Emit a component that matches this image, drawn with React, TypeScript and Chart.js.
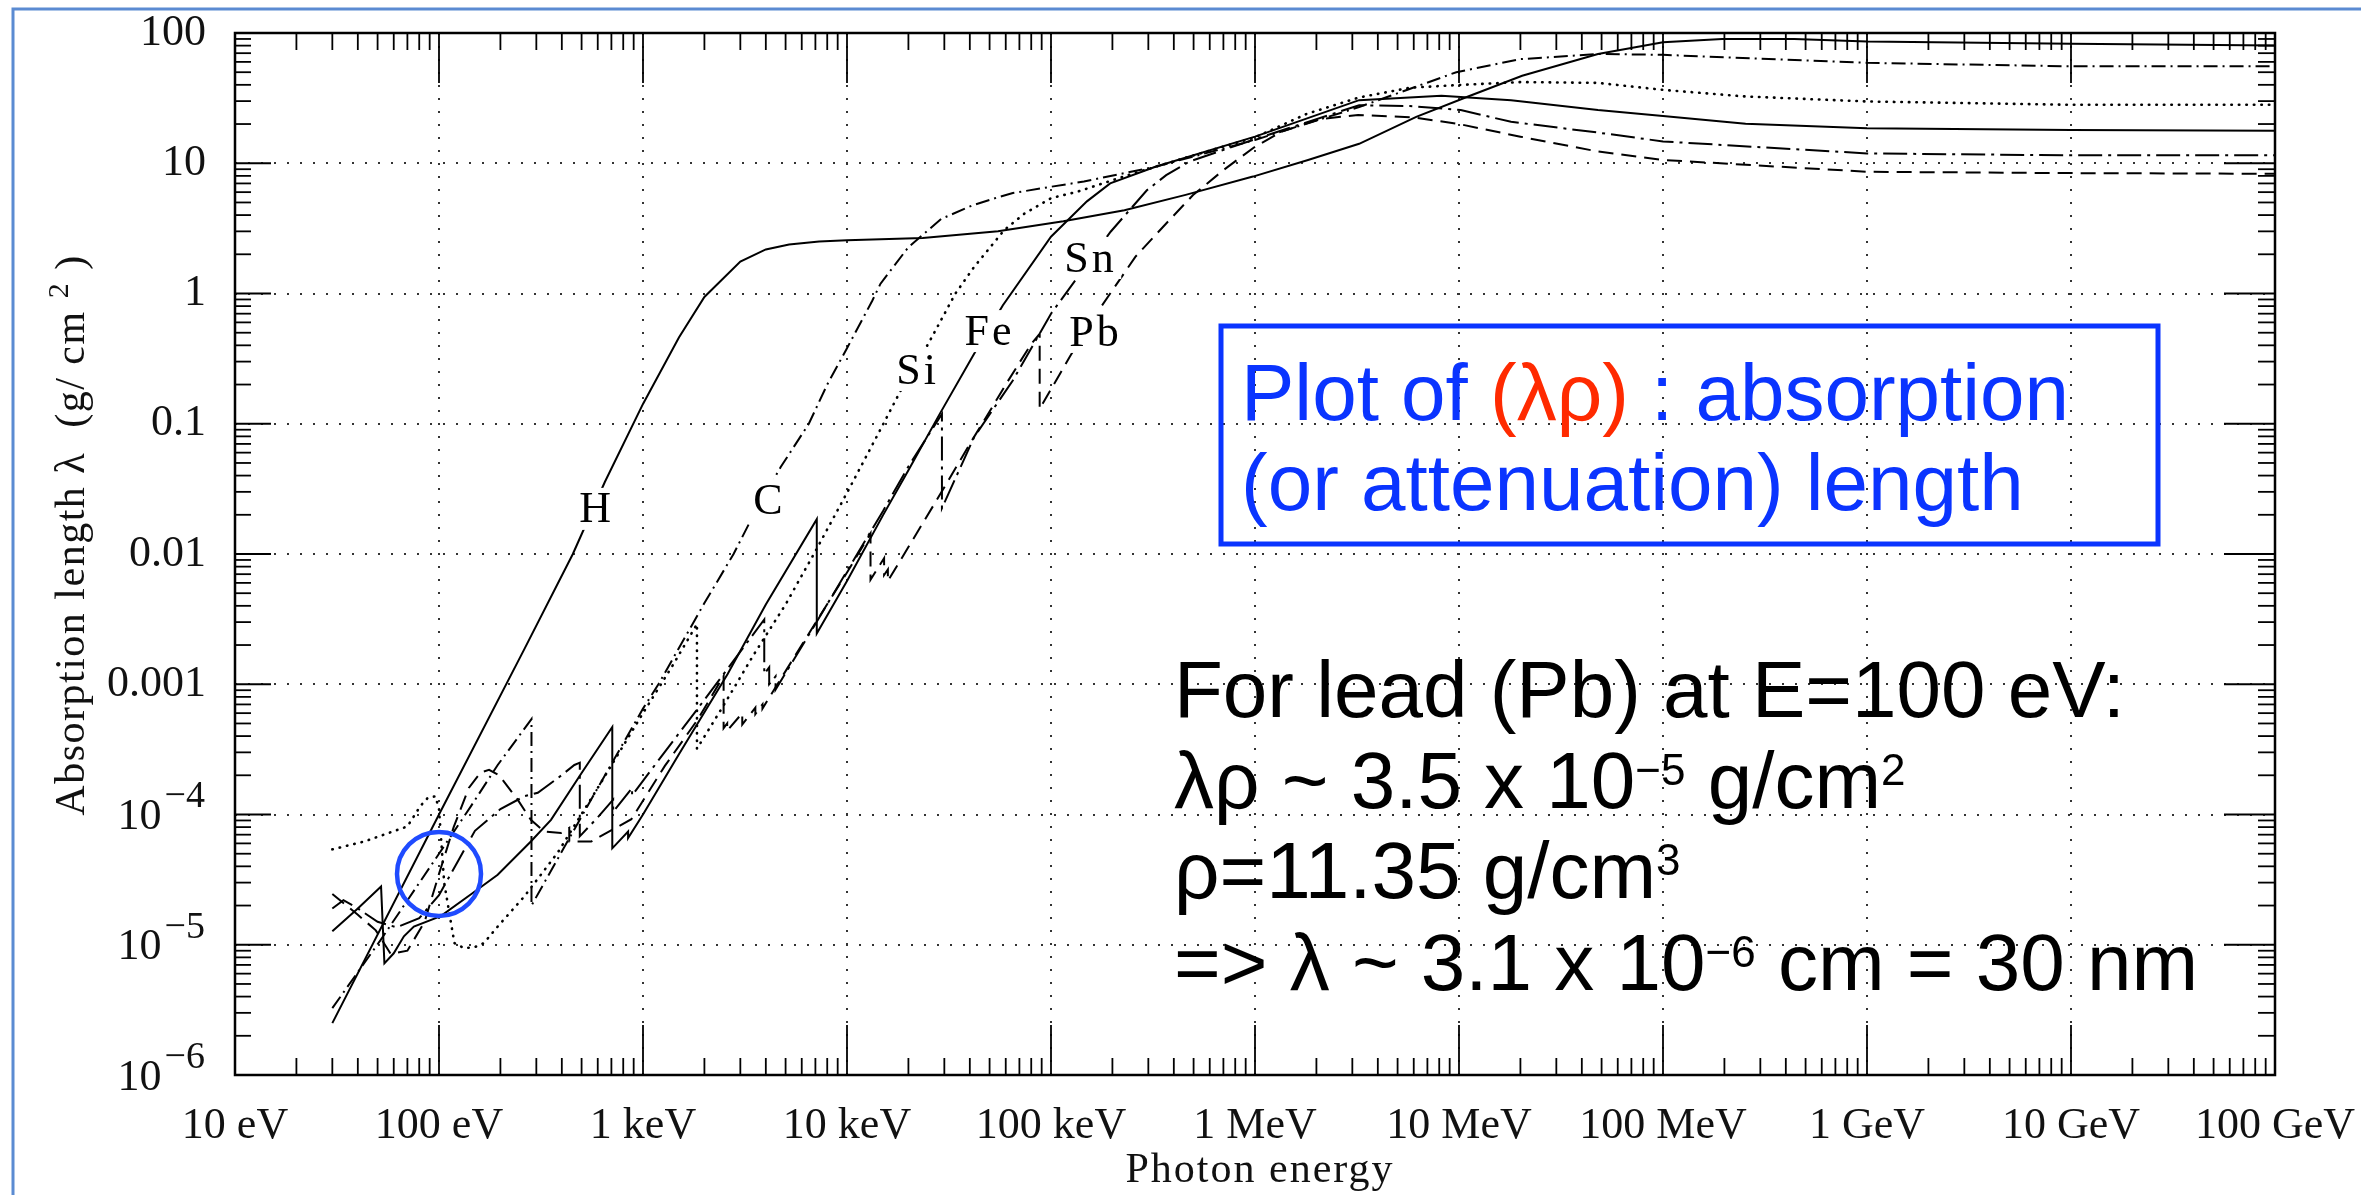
import React, { useEffect, useRef } from 'react';
import { Chart, registerables } from 'chart.js';

Chart.register(...registerables);

// ---------------- data (photon energy in eV, absorption length in g/cm^2) ----------------
const hE = [30, 100, 262, 453, 650, 1000, 1500, 2000, 3000, 4000, 5200, 7300, 1e4, 2.35e4, 5.5e4, 1.15e5, 2.29e5, 4.57e5, 9.77e5, 1.82e6, 3.24e6, 6.17e6, 1.1e7, 2.04e7, 4.8e7, 1e8, 1.95e8, 4.4e8, 1e9, 1e10, 1e11];
const hL = [2.5e-6, 1.0e-4, 1.86e-3, 0.01, 0.0357, 0.142, 0.46, 0.94, 1.76, 2.18, 2.38, 2.51, 2.56, 2.67, 3.0, 3.58, 4.35, 5.72, 7.9, 10.6, 14.1, 22.7, 32.4, 47, 69, 84.8, 90, 90, 86, 82.8, 80];

const cE = [30, 52, 100, 143, 194, 284, 284, 400, 600, 1000, 1190, 2000, 2780, 3450, 4740, 6500, 8000, 1e4, 1.33e4, 1.46e4, 2e4, 2.9e4, 4.1e4, 5.5e4, 6.5e4, 1e5, 1.45e5, 3.25e5, 1e6, 3.24e6, 9.7e6, 2e7, 4.8e7, 1e8, 1e9, 1e10, 1e11];
const cL = [3.26e-6, 1.1e-5, 5.0e-5, 1.15e-4, 2.4e-4, 5.4e-4, 2.0e-5, 5.2e-5, 1.6e-4, 6.5e-4, 1.0e-3, 4.2e-3, 0.01, 0.0194, 0.0467, 0.1, 0.2, 0.38, 0.88, 1.19, 2.27, 3.74, 4.73, 5.48, 5.9, 6.6, 7.24, 9.4, 15.1, 27, 50, 63, 69, 68, 59, 55.5, 55.5];

const siE = [30, 43, 70, 81, 88, 96, 100, 106, 119, 133, 150, 166, 194, 262, 382, 600, 1000, 1400, 1839, 1839, 2500, 3500, 5000, 7000, 1e4, 1.4e4, 1.9e4, 2.5e4, 3.4e4, 4.2e4, 5.9e4, 7.4e4, 1e5, 1.35e5, 2.38e5, 5e5, 1e6, 1.8e6, 3.24e6, 5.75e6, 9.7e6, 2e7, 4.8e7, 1e8, 2.5e8, 1e9, 1e10, 1e11];
const siL = [5.4e-5, 6.2e-5, 8.1e-5, 1.16e-4, 1.34e-4, 1.38e-4, 1.1e-4, 3.0e-5, 1.03e-5, 9.4e-6, 9.6e-6, 1.03e-5, 1.38e-5, 2.35e-5, 5.1e-5, 1.6e-4, 6.0e-4, 1.4e-3, 2.9e-3, 3.2e-4, 7.0e-4, 1.7e-3, 4.1e-3, 0.0105, 0.0295, 0.08, 0.2, 0.41, 1.0, 1.6, 3.07, 4.1, 5.4, 6.05, 8.1, 11.5, 15.8, 24, 32, 38, 39.8, 42, 41.4, 36.6, 32.6, 29.8, 28.1, 28.1];

const feE = [30, 40, 52, 54, 60, 67.3, 75.3, 102, 143, 194, 282, 354, 500, 707, 707, 845, 845, 1000, 1500, 2600, 4000, 7110, 7110, 1e4, 1.5e4, 2e4, 2.84e4, 4.2e4, 5.8e4, 1e5, 1.5e5, 1.95e5, 3.25e5, 1e6, 3.24e6, 8.2e6, 1.8e7, 4.8e7, 1e8, 2.54e8, 1e9, 1e10, 1e11];
const feL = [1.27e-5, 1.9e-5, 2.8e-5, 7.2e-6, 8.6e-6, 1.16e-5, 1.38e-5, 1.66e-5, 2.43e-5, 3.45e-5, 6.2e-5, 9.1e-5, 2.08e-4, 4.7e-4, 5.5e-5, 7.4e-5, 6.6e-5, 1.0e-4, 2.9e-4, 1.2e-3, 4.1e-3, 0.0185, 2.45e-3, 6.2e-3, 0.0198, 0.044, 0.118, 0.345, 0.81, 2.73, 5.1, 7.0, 9.4, 16, 30.5, 33, 30.5, 25.6, 23.1, 20.1, 18.6, 18.0, 17.8];

const snE = [30, 34, 40, 50, 62, 80, 100, 125, 150, 200, 262, 305, 382, 461, 490, 490, 600, 714, 714, 884, 884, 1200, 2000, 3000, 3930, 3930, 4156, 4156, 4465, 4465, 7000, 1e4, 1.5e4, 2e4, 2.92e4, 2.92e4, 4.2e4, 6.5e4, 1e5, 1.32e5, 1.96e5, 2.95e5, 3.67e5, 4.76e5, 1e6, 3.24e6, 5.75e6, 1.02e7, 1.8e7, 4.8e7, 1e8, 1e9, 1e10, 1e11];
const snL = [1.9e-5, 2.2e-5, 1.9e-5, 1.5e-5, 1.36e-5, 1.6e-5, 2.4e-5, 4.5e-5, 7.5e-5, 1.1e-4, 1.38e-4, 1.47e-4, 1.9e-4, 2.4e-4, 2.5e-4, 6.8e-5, 9.5e-5, 1.3e-4, 1.05e-4, 1.6e-4, 1.4e-4, 2.65e-4, 7.6e-4, 1.78e-3, 3.14e-3, 1.2e-3, 1.35e-3, 1.0e-3, 1.15e-3, 9.1e-4, 2.9e-3, 7.4e-3, 0.0213, 0.047, 0.119, 0.0225, 0.079, 0.215, 0.7, 1.27, 2.98, 6.2, 8.1, 10.3, 15.3, 27.9, 27.5, 25.6, 20.8, 17.2, 14.7, 11.9, 11.5, 11.5];

const pbE = [30, 40, 49, 58, 70, 85, 100, 118, 140, 160, 176, 197, 243, 282, 328, 396, 435, 435, 557, 877, 1280, 1860, 2484, 2484, 2586, 2586, 3066, 3066, 3554, 3554, 3851, 3851, 4560, 7050, 1e4, 13040, 13040, 15200, 15200, 15860, 15860, 2e4, 3e4, 4e4, 5e4, 6e4, 8e4, 8.8e4, 8.8e4, 1.24e5, 1.76e5, 2.59e5, 3.67e5, 4.97e5, 7.03e5, 1e6, 1.35e6, 2.08e6, 3.2e6, 6e6, 1e7, 2e7, 4.8e7, 1e8, 1e9, 1e10, 1e11];
const pbL = [2.45e-5, 1.7e-5, 1.29e-5, 8.5e-6, 9.0e-6, 1.5e-5, 3.5e-5, 8.0e-5, 1.6e-4, 2.1e-4, 2.2e-4, 2.0e-4, 1.3e-4, 9.1e-5, 7.4e-5, 7.2e-5, 7.9e-5, 6.2e-5, 6.2e-5, 9.2e-5, 2.36e-4, 5.4e-4, 1.16e-3, 4.6e-4, 5.0e-4, 4.4e-4, 6.0e-4, 4.9e-4, 6.6e-4, 5.9e-4, 7.0e-4, 6.5e-4, 1.0e-3, 3.0e-3, 7.2e-3, 0.0144, 6.35e-3, 9.3e-3, 6.9e-3, 7.6e-3, 6.2e-3, 0.0113, 0.0325, 0.07, 0.124, 0.2, 0.41, 0.49, 0.13, 0.33, 0.79, 1.91, 3.45, 5.7, 8.9, 13.4, 17.5, 21.8, 23.5, 22.5, 20, 16, 12.3, 10.6, 8.6, 8.4, 8.3];

// element labels placed on their curves (data coordinates)
const elementNames = ['H', 'C', 'Si', 'Fe', 'Sn', 'Pb'];
const labelE = [582, 4100, 21800, 49100, 153600, 162500];
const labelL = [0.023, 0.0269, 0.268, 0.533, 1.94, 0.525];

// highlighted point (Pb at 100 eV)
const circleE = 100;
const circleL = 3.5e-5;

// tick labels
const xTickValues = [1e1, 1e2, 1e3, 1e4, 1e5, 1e6, 1e7, 1e8, 1e9, 1e10, 1e11];
const xTickLabels = ['10 eV', '100 eV', '1 keV', '10 keV', '100 keV', '1 MeV', '10 MeV', '100 MeV', '1 GeV', '10 GeV', '100 GeV'];
const yTickValues = [1e-6, 1e-5, 1e-4, 1e-3, 1e-2, 0.1, 1, 10, 100];
const yTickLabels = ['10^\u22126', '10^\u22125', '10^\u22124', '0.001', '0.01', '0.1', '1', '10', '100'];

const xTitle = 'Photon energy';
const yTitleMain = 'Absorption length \u03bb  (g/ cm ';
const yTitleSup = '2';
const yTitleEnd = ' )';

type Seg = { t: string; sup?: boolean; red?: boolean };
const boxLines: Seg[][] = [
  [{ t: 'Plot of ' }, { t: '(\u03bb\u03c1)', red: true }, { t: ' : absorption' }],
  [{ t: '(or attenuation) length' }],
];
const noteLines: Seg[][] = [
  [{ t: 'For lead (Pb) at E=100 eV:' }],
  [{ t: '\u03bb\u03c1 ~ 3.5 x 10' }, { t: '\u22125', sup: true }, { t: ' g/cm' }, { t: '2', sup: true }],
  [{ t: '\u03c1=11.35 g/cm' }, { t: '3', sup: true }],
  [{ t: '=> \u03bb ~ 3.1 x 10' }, { t: '\u22126', sup: true }, { t: ' cm = 30 nm' }],
];

// ---------------- styling ----------------
const SERIF = "'Liberation Serif', 'Times New Roman', serif";
const SANS = "'Liberation Sans', Arial, Helvetica, sans-serif";
const BLUE = '#0a34ff';
const RED = '#ff2a00';

const pts = (e: number[], l: number[]) => e.map((x, i) => ({ x, y: l[i] }));

function line(ctx: CanvasRenderingContext2D, x1: number, y1: number, x2: number, y2: number) {
  ctx.beginPath();
  ctx.moveTo(x1, y1);
  ctx.lineTo(x2, y2);
  ctx.stroke();
}

function drawSegs(ctx: CanvasRenderingContext2D, x: number, y: number, segs: Seg[], size: number, supSize: number, rise: number, color: string) {
  let cx = x;
  for (const s of segs) {
    ctx.font = `${s.sup ? supSize : size}px ${SANS}`;
    ctx.fillStyle = s.red ? RED : color;
    ctx.fillText(s.t, cx, s.sup ? y - rise : y);
    cx += ctx.measureText(s.t).width;
  }
}

const zeroPad = (s: any) => {
  s.paddingLeft = 0;
  s.paddingRight = 0;
  s.paddingTop = 0;
  s.paddingBottom = 0;
};

const decoPlugin = {
  id: 'deco',
  beforeDraw(chart: any) {
    const ctx: CanvasRenderingContext2D = chart.ctx;
    ctx.save();
    ctx.fillStyle = '#fff';
    ctx.fillRect(0, 0, chart.width, chart.height);
    ctx.restore();
  },
  afterDraw(chart: any) {
    const ctx: CanvasRenderingContext2D = chart.ctx;
    const a = chart.chartArea;
    const xs = chart.scales.x;
    const ys = chart.scales.y;
    ctx.save();

    // element labels with white background (gap in curve)
    ctx.font = `44px ${SERIF}`;
    (ctx as any).letterSpacing = '3px';
    ctx.textAlign = 'center';
    ctx.textBaseline = 'middle';
    elementNames.forEach((t, i) => {
      const px = xs.getPixelForValue(labelE[i]);
      const py = ys.getPixelForValue(labelL[i]) + 2;
      const w = ctx.measureText(t).width;
      ctx.fillStyle = '#fff';
      ctx.fillRect(px - w / 2 - 6, py - 21, w + 12, 42);
      ctx.fillStyle = '#000';
      ctx.fillText(t, px + 1.5, py + 2);
    });
    (ctx as any).letterSpacing = '0px';

    // frame
    ctx.strokeStyle = '#000';
    ctx.lineWidth = 2.5;
    ctx.strokeRect(a.left, a.top, a.right - a.left, a.bottom - a.top);

    // inward ticks
    ctx.lineWidth = 1.8;
    for (let d = 1; d <= 11; d++) {
      for (let m = 1; m <= 9; m++) {
        const v = m * Math.pow(10, d);
        if (v > 1e11 * 1.0001) continue;
        const px = xs.getPixelForValue(v);
        const len = m === 1 ? 50 : 17;
        line(ctx, px, a.bottom, px, a.bottom - len);
        line(ctx, px, a.top, px, a.top + len);
      }
    }
    for (let d = -6; d <= 2; d++) {
      for (let m = 1; m <= 9; m++) {
        const v = m * Math.pow(10, d);
        if (v > 100 * 1.0001) continue;
        const py = ys.getPixelForValue(v);
        line(ctx, a.left, py, a.left + (m === 1 ? 36 : 16), py);
        line(ctx, a.right, py, a.right - (m === 1 ? 51 : 17), py);
      }
    }

    // y tick labels with exponents
    ctx.fillStyle = '#111';
    ctx.textBaseline = 'middle';
    ctx.textAlign = 'right';
    yTickLabels.forEach((lab, i) => {
      if (lab.indexOf('^') < 0) return;
      const [base, ex] = lab.split('^');
      const py = ys.getPixelForValue(yTickValues[i]);
      const right = a.left - 30;
      ctx.font = `38px ${SERIF}`;
      const ew = ctx.measureText(ex).width;
      ctx.fillText(ex, right, py - 17);
      ctx.font = `44px ${SERIF}`;
      ctx.fillText(base, right - ew - 3, py + 3);
    });

    // axis titles
    ctx.fillStyle = '#111';
    ctx.textBaseline = 'alphabetic';
    ctx.textAlign = 'left';
    (ctx as any).letterSpacing = '2px';
    ctx.font = `42px ${SERIF}`;
    const xtW = ctx.measureText(xTitle).width;
    ctx.fillText(xTitle, 1260 - xtW / 2, 1182);

    ctx.save();
    ctx.translate(84, 535);
    ctx.rotate(-Math.PI / 2);
    (ctx as any).letterSpacing = '1.5px';
    ctx.font = `42px ${SERIF}`;
    const w1 = ctx.measureText(yTitleMain).width;
    ctx.font = `30px ${SERIF}`;
    const w2 = ctx.measureText(yTitleSup).width;
    ctx.font = `42px ${SERIF}`;
    const w3 = ctx.measureText(yTitleEnd).width;
    let tx = -(w1 + w2 + w3) / 2;
    ctx.fillText(yTitleMain, tx, 0);
    tx += w1;
    ctx.font = `30px ${SERIF}`;
    ctx.fillText(yTitleSup, tx, -16);
    tx += w2;
    ctx.font = `42px ${SERIF}`;
    ctx.fillText(yTitleEnd, tx, 0);
    ctx.restore();
    (ctx as any).letterSpacing = '0px';

    // highlight circle
    const cx = xs.getPixelForValue(circleE);
    const cy = ys.getPixelForValue(circleL);
    ctx.strokeStyle = '#1f4bff';
    ctx.lineWidth = 4.5;
    ctx.beginPath();
    ctx.arc(cx, cy, 42, 0, Math.PI * 2);
    ctx.stroke();

    // blue text box
    ctx.strokeStyle = BLUE;
    ctx.lineWidth = 5;
    ctx.strokeRect(1221, 326, 937, 218);
    ctx.textAlign = 'left';
    ctx.textBaseline = 'alphabetic';
    drawSegs(ctx, 1241, 420, boxLines[0], 80, 44, 22, BLUE);
    drawSegs(ctx, 1241, 510, boxLines[1], 80, 44, 22, BLUE);

    // black note
    const baselines = [717, 808, 898, 990];
    noteLines.forEach((segs, i) => drawSegs(ctx, 1174, baselines[i], segs, 80, 44, 23, '#000'));

    // slide frame (light blue)
    ctx.strokeStyle = '#5b8bd2';
    ctx.lineWidth = 3;
    ctx.beginPath();
    ctx.moveTo(13, 1195);
    ctx.lineTo(13, 9);
    ctx.lineTo(2361, 9);
    ctx.stroke();

    ctx.restore();
  },
};

export default function App() {
  const ref = useRef<HTMLCanvasElement>(null);

  useEffect(() => {
    const style = (dash: number[], width = 2, cap: 'butt' | 'round' = 'butt') => ({
      borderColor: '#000',
      borderWidth: width,
      borderDash: dash,
      borderCapStyle: cap,
      pointRadius: 0,
      showLine: true,
      fill: false,
      tension: 0,
    });
    const gridColor = (ctx: any, n: number) =>
      ctx.index === 0 || ctx.index === n - 1 ? 'rgba(0,0,0,0)' : '#333';

    const chart = new Chart(ref.current as HTMLCanvasElement, {
      type: 'scatter',
      data: {
        datasets: [
          { label: 'H', data: pts(hE, hL), ...style([]) },
          { label: 'C', data: pts(cE, cL), ...style([14, 5, 2, 5]) },
          { label: 'Si', data: pts(siE, siL), ...style([0.5, 7], 2.6, 'round') },
          { label: 'Fe', data: pts(feE, feL), ...style([]) },
          { label: 'Sn', data: pts(snE, snL), ...style([24, 6, 3, 6]) },
          { label: 'Pb', data: pts(pbE, pbL), ...style([15, 8]) },
        ],
      },
      options: {
        animation: false,
        responsive: false,
        devicePixelRatio: 1,
        events: [],
        layout: { autoPadding: false, padding: { top: 33, right: 86, left: 0, bottom: 0 } },
        plugins: { legend: { display: false }, tooltip: { enabled: false } },
        scales: {
          x: {
            type: 'logarithmic',
            min: 10,
            max: 1e11,
            afterBuildTicks: (s: any) => {
              s.ticks = xTickValues.map((v) => ({ value: v, major: true }));
            },
            afterFit: (s: any) => {
              s.height = 120;
              zeroPad(s);
            },
            ticks: {
              autoSkip: false,
              maxRotation: 0,
              padding: 25,
              color: '#111',
              font: { family: SERIF, size: 44 },
              callback: (v: any) => {
                const i = xTickValues.findIndex((t) => Math.abs(Math.log10(t) - Math.log10(Number(v))) < 1e-6);
                return i >= 0 ? xTickLabels[i] : '';
              },
            },
            grid: {
              color: (c: any) => gridColor(c, xTickValues.length),
              lineWidth: 2,
              drawTicks: false,
            },
            border: { display: false, dash: [2, 11] },
          },
          y: {
            type: 'logarithmic',
            min: 1e-6,
            max: 100,
            afterBuildTicks: (s: any) => {
              s.ticks = yTickValues.map((v) => ({ value: v, major: true }));
            },
            afterFit: (s: any) => {
              s.width = 235;
              zeroPad(s);
            },
            ticks: {
              autoSkip: false,
              padding: 29,
              color: '#111',
              font: { family: SERIF, size: 44 },
              callback: (v: any) => {
                const i = yTickValues.findIndex((t) => Math.abs(Math.log10(t) - Math.log10(Number(v))) < 1e-6);
                if (i < 0) return '';
                const lab = yTickLabels[i];
                return lab.indexOf('^') >= 0 ? '' : lab;
              },
            },
            grid: {
              color: (c: any) => gridColor(c, yTickValues.length),
              lineWidth: 2,
              drawTicks: false,
            },
            border: { display: false, dash: [2, 11] },
          },
        },
      } as any,
      plugins: [decoPlugin],
    });
    return () => chart.destroy();
  }, []);

  return (
    <div style={{ position: 'fixed', left: 0, top: 0, width: 2361, height: 1195, background: '#fff' }}>
      <canvas ref={ref} width={2361} height={1195} style={{ display: 'block', width: 2361, height: 1195 }} />
    </div>
  );
}
